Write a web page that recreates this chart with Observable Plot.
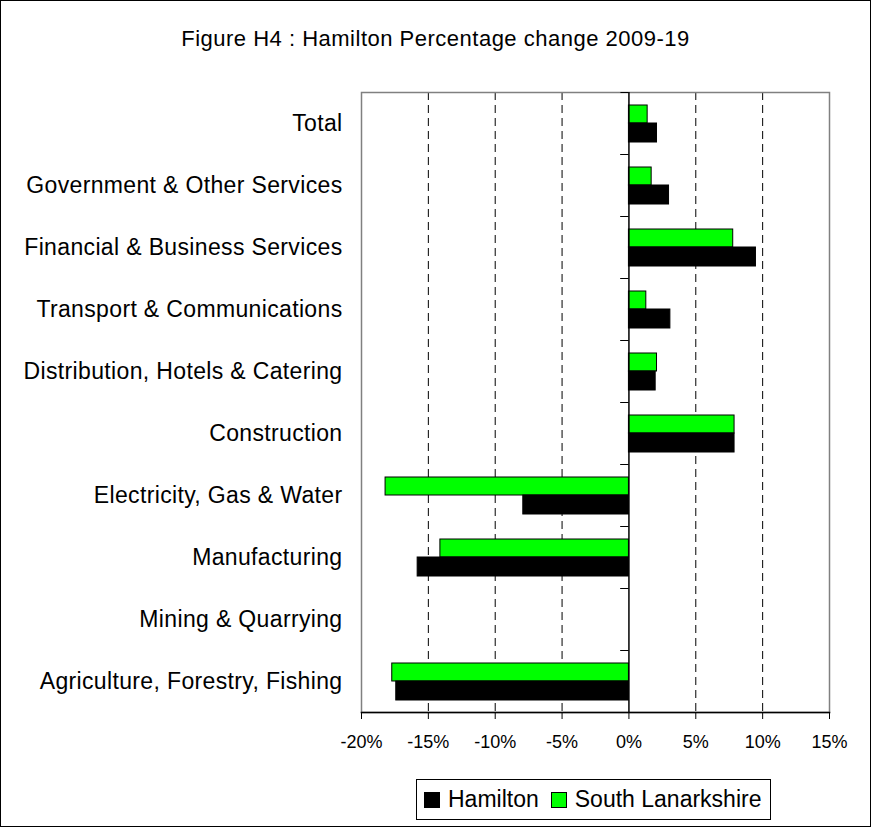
<!DOCTYPE html>
<html>
<head>
<meta charset="utf-8">
<script src="https://cdn.jsdelivr.net/npm/d3@7"></script>
<script src="https://cdn.jsdelivr.net/npm/@observablehq/plot@0.6"></script>
<style>
  html, body { margin: 0; padding: 0; background: #fff; }
  #wrap { position: relative; width: 871px; height: 827px; font-family: "Liberation Sans", Arial, sans-serif; overflow: hidden; }
  #frame { position: absolute; left: 0; top: 0; width: 871px; height: 827px; box-sizing: border-box; border: 1px solid #000; pointer-events: none; }
  #title { position: absolute; left: 0; width: 871px; top: 28px; text-align: center; font-size: 22px; line-height: 22px; letter-spacing: 0.5px; color: #000; }
  #chart { position: absolute; left: 0; top: 70px; }
  #chart g[aria-label="y-axis tick label"] text { letter-spacing: 0.35px; }
  #legend { position: absolute; left: 416px; top: 779px; width: 355px; height: 41px; box-sizing: border-box; border: 1px solid #000; display: flex; align-items: center; justify-content: flex-start; padding-left: 7px; font-size: 23px; color: #000; background: #fff; }
  .sw { display: inline-block; width: 16px; height: 16px; box-sizing: border-box; border: 1px solid #000; margin-right: 8px; }
  .item { display: flex; align-items: center; }
  .item + .item { margin-left: 12px; }
</style>
</head>
<body>
<div id="wrap">
  <div id="title"></div>
  <div id="chart"></div>
  <div id="legend"></div>
  <div id="frame"></div>
</div>
<script>
const titleText = "Figure H4 : Hamilton Percentage change 2009-19";
const categories = [
  "Total",
  "Government & Other Services",
  "Financial & Business Services",
  "Transport & Communications",
  "Distribution, Hotels & Catering",
  "Construction",
  "Electricity, Gas & Water",
  "Manufacturing",
  "Mining & Quarrying",
  "Agriculture, Forestry, Fishing"
];
const seriesNames = ["Hamilton", "South Lanarkshire"];
const seriesColors = ["#000000", "#00ff00"];
const hamilton = [2.1, 3.0, 9.5, 3.1, 2.0, 7.9, -7.9, -15.8, 0, -17.4];
const southLanarkshire = [1.4, 1.7, 7.8, 1.3, 2.1, 7.9, -18.2, -14.1, 0, -17.7];
const xTicks = [-20, -15, -10, -5, 0, 5, 10, 15];
const gridTicks = [-15, -10, -5, 5, 10];

const rows = categories.map((c, i) => ({category: c, hamilton: hamilton[i], south: southLanarkshire[i]}));

document.getElementById("title").textContent = titleText;

const chart = Plot.plot({
  width: 871,
  height: 700,
  marginLeft: 361,
  marginRight: 42,
  marginTop: 22,
  marginBottom: 58,
  style: {fontFamily: "Liberation Sans, Arial, sans-serif", background: "transparent", color: "#000"},
  x: {domain: [-20, 15]},
  y: {domain: categories, padding: 0},
  marks: [
    Plot.ruleX(gridTicks, {stroke: "#000", strokeDasharray: "8,5", strokeWidth: 1}),
    Plot.frame({stroke: "#808080", strokeWidth: 1.5}),
    Plot.barX(rows, {x1: 0, x2: "south", y: "category", fill: seriesColors[1], stroke: "#000", strokeWidth: 1, insetTop: 13, insetBottom: 31}),
    Plot.barX(rows, {x1: 0, x2: "hamilton", y: "category", fill: seriesColors[0], stroke: "#000", strokeWidth: 1, insetTop: 31, insetBottom: 12}),
    Plot.ruleX([0], {stroke: "#000", strokeWidth: 1.5}),
    Plot.ruleY(categories, {y: d => d, x1: -0.6, x2: 0, dy: -31, stroke: "#000"}),
    Plot.ruleY(categories, {y: d => d, x1: -0.6, x2: 0, dy: 31, stroke: "#000"}),
    Plot.frame({anchor: "bottom", stroke: "#000", strokeWidth: 1.5}),
    Plot.axisX({ticks: xTicks, tickSize: 7, tickPadding: 16, fontSize: 18, tickFormat: d => d + "%", label: null}),
    Plot.axisY({tickSize: 0, tickPadding: 19, fontSize: 23, label: null})
  ]
});
document.getElementById("chart").appendChild(chart);

const legend = document.getElementById("legend");
seriesNames.forEach((name, i) => {
  const item = document.createElement("span");
  item.className = "item";
  const sw = document.createElement("span");
  sw.className = "sw";
  sw.style.background = seriesColors[i];
  const label = document.createElement("span");
  label.textContent = name;
  item.appendChild(sw);
  item.appendChild(label);
  legend.appendChild(item);
});
</script>
</body>
</html>
